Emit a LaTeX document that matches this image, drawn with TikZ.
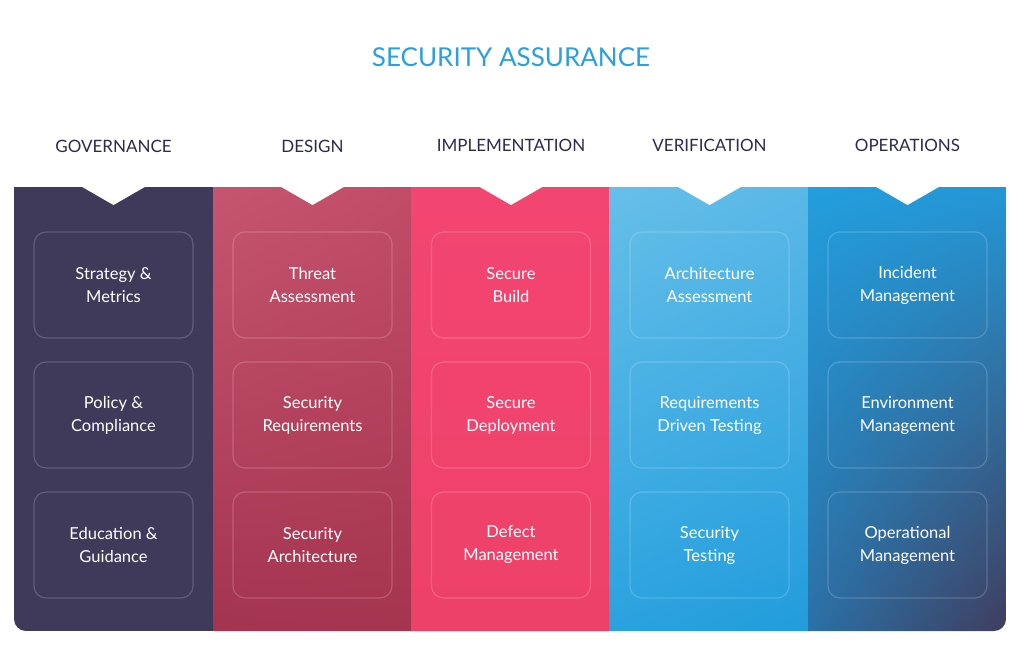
\documentclass[tikz,border=0pt]{standalone}
\usepackage{fontspec}
\setmainfont{Lato}
\usetikzlibrary{shadings}
\definecolor{titleblue}{HTML}{2AA1DE}
\definecolor{headnavy}{HTML}{2D2B4D}
\definecolor{colA}{HTML}{3F3A5A}
\definecolor{colBtl}{HTML}{C65570}
\definecolor{colBtr}{HTML}{C24C68}
\definecolor{colBbl}{HTML}{A3344F}
\definecolor{colBbr}{HTML}{A5344F}
\definecolor{colC}{HTML}{F34571}
\definecolor{colCb}{HTML}{EE4169}
\definecolor{colDtl}{HTML}{66BFE9}
\definecolor{colDtr}{HTML}{5AB8E7}
\definecolor{colDbl}{HTML}{2AA2DF}
\definecolor{colDbr}{HTML}{229CDC}
\definecolor{colEtl}{HTML}{239EDE}
\definecolor{colEtr}{HTML}{2497D6}
\definecolor{colEbl}{HTML}{2B70A6}
\definecolor{colEbr}{HTML}{403D5E}
\tikzset{
  pracbox/.style={draw=white, draw opacity=0.18, line width=1.2pt, rounded corners=12pt,
    minimum width=159pt, minimum height=106pt, inner sep=0pt, align=center,
    text=white, font=\fontsize{16.5}{23}\selectfont},
  headlbl/.style={text=headnavy, font=\fontsize{17}{20}\selectfont, inner sep=0pt},
  notch/.style={fill=white},
}
\begin{document}
\begin{tikzpicture}[x=1pt,y=-1pt]
\useasboundingbox (0,0) rectangle (1024,650);
\fill[white] (0,0) rectangle (1024,650);
\node[text=titleblue, font=\fontsize{26}{30}\selectfont, inner sep=0pt] (title) at (511,57) {SECURITY ASSURANCE};
\node[headlbl] (h1) at (113.5,146) {GOVERNANCE};
\node[headlbl] (h2) at (312.5,146) {DESIGN};
\node[headlbl] (h3) at (511,145) {IMPLEMENTATION};
\node[headlbl] (h4) at (709.5,145) {VERIFICATION};
\node[headlbl] (h5) at (907.5,145) {OPERATIONS};
\begin{scope}
\clip[rounded corners=12pt] (14,150) rectangle (1006,631);
\fill[colA] (14,187) rectangle (213.5,631);
\shade[upper left=colBtl, upper right=colBtr, lower left=colBbl, lower right=colBbr] (213,187) rectangle (411.5,631);
\shade[top color=colC, bottom color=colCb] (411,187) rectangle (610,631);
\shade[upper left=colDtl, upper right=colDtr, lower left=colDbl, lower right=colDbr] (609.5,187) rectangle (808.5,631);
\shade[upper left=colEtl, upper right=colEtr, lower left=colEbl, lower right=colEbr] (808,187) rectangle (1006,631);
\end{scope}
\foreach \cx in {113.5,312.5,511,709.5,907.5}{
  \fill[notch] (\cx-33,186) -- (\cx,205) -- (\cx+33,186) -- cycle;
}
\node[pracbox] (b11) at (113.5,285) {Strategy \&\\Metrics};
\node[pracbox] (b12) at (113.5,415) {Policy \&\\Compliance};
\node[pracbox] (b13) at (113.5,545) {Education \&\\Guidance};
\node[pracbox] (b21) at (312.5,285) {Threat\\Assessment};
\node[pracbox] (b22) at (312.5,415) {Security\\Requirements};
\node[pracbox] (b23) at (312.5,545) {Security\\Architecture};
\node[pracbox] (b31) at (511,285) {Secure\\Build};
\node[pracbox] (b32) at (511,415) {Secure\\Deployment};
\node[pracbox] (b33) at (511,545) {Defect\\Management};
\node[pracbox] (b41) at (709.5,285) {Architecture\\Assessment};
\node[pracbox] (b42) at (709.5,415) {Requirements\\Driven Testing};
\node[pracbox] (b43) at (709.5,545) {Security\\Testing};
\node[pracbox] (b51) at (907.5,285) {Incident\\Management};
\node[pracbox] (b52) at (907.5,415) {Environment\\Management};
\node[pracbox] (b53) at (907.5,545) {Operational\\Management};
\end{tikzpicture}
\end{document}
